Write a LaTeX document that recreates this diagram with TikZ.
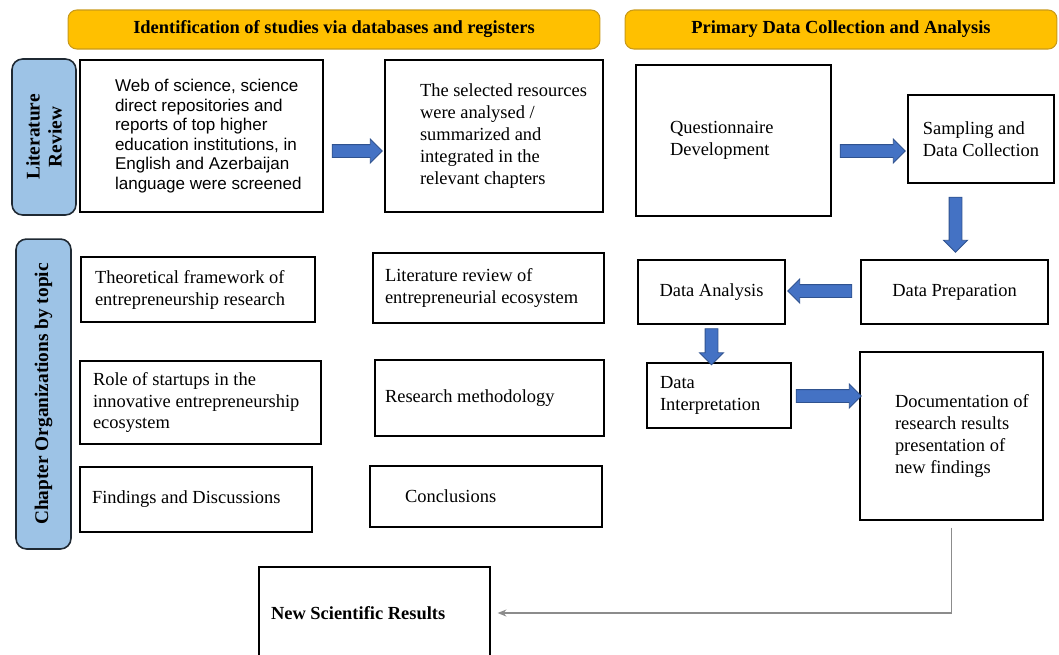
\documentclass[tikz,border=0pt]{standalone}
\usepackage{fontspec}
\setmainfont{Liberation Serif}
\newfontfamily\arialfont{Liberation Sans}
\usepackage{tikz}
\usepackage{xcolor}
\usetikzlibrary{shapes.arrows,arrows.meta}
\definecolor{myyellow}{HTML}{FFC000}
\definecolor{myyellowline}{HTML}{C99A1A}
\definecolor{mysky}{HTML}{9DC3E6}
\definecolor{myskyline}{HTML}{1F2933}
\definecolor{myarrow}{HTML}{4472C4}
\definecolor{myarrowline}{HTML}{2F528F}
\definecolor{mygrey}{HTML}{8C8C8C}

\begin{document}
\begin{tikzpicture}[x=0.02cm, y=-0.02cm,
    box/.style={draw=black, line width=0.75pt, fill=white, font=\fontsize{10.5}{12.5}\selectfont},
    inset/.style={align=left, execute at begin node={\leftskip=#1\spaceskip=0pt\xspaceskip=0pt}},
    header/.style={draw=myyellowline, line width=0.6pt, fill=myyellow, rounded corners=5pt, font=\fontsize{10.5}{12.5}\selectfont\bfseries},
    side/.style={draw=myskyline, line width=0.9pt, fill=mysky, rounded corners=6pt, rotate=90, align=center, font=\fontsize{11}{12.5}\selectfont\bfseries},
    bluearrow/.style={single arrow, draw=myarrowline, fill=myarrow, line width=0.5pt, inner xsep=0pt, inner ysep=0.12cm, single arrow head extend=0.11cm},
    bluedown/.style={bluearrow, shape border rotate=270, inner xsep=0.12cm, inner ysep=0pt},
    feedback/.style={draw=mygrey, line width=0.6pt, -{Stealth[length=5pt, width=4pt]}}]
    \useasboundingbox (0, 0) rectangle (1059, 654);
    \clip (0, 0) rectangle (1059, 654);
    \node[header, minimum width=10.64cm, minimum height=0.78cm] (1) at (334, 29.5) {Identification of studies via databases and registers};
    \node[header, minimum width=8.64cm, minimum height=0.78cm] (2) at (841, 29.5) {Primary Data Collection and Analysis};
    \node[side, minimum width=3.12cm, minimum height=1.28cm] (3) at (44, 137) {Literature\\Review};
    \node[side, minimum width=6.2cm, minimum height=1.1cm] (4) at (43.5, 394) {Chapter Organizations by topic};
    \node[box, minimum width=4.86cm, minimum height=3.04cm, text width=4.46cm, inset=0.5cm, font=\fontsize{9.7}{11.1}\selectfont\arialfont] (5) at (201.5, 136) {Web of science, science\\direct repositories and\\reports of top higher\\education institutions, in\\English and Azerbaijan\\language were screened};
    \node[box, minimum width=4.36cm, minimum height=3.04cm, text width=4.0cm, inset=0.52cm] (6) at (494, 136) {The selected resources\\were analysed /\\summarized and\\integrated in the\\relevant chapters};
    \node[box, minimum width=4.68cm, minimum height=1.30cm, text width=4.12cm, inset=0pt] (7) at (198, 289.5) {Theoretical framework of\\entrepreneurship research};
    \node[box, minimum width=4.62cm, minimum height=1.40cm, text width=4.14cm, inset=0pt] (8) at (488.5, 288) {Literature review of\\entrepreneurial ecosystem};
    \node[box, minimum width=4.82cm, minimum height=1.66cm, text width=4.5cm, inset=0.1cm] (9) at (200.5, 402.5) {Role of startups in the\\innovative entrepreneurship\\ecosystem};
    \node[box, minimum width=4.58cm, minimum height=1.52cm, text width=4.18cm, inset=0pt] (10) at (489.5, 398) {Research methodology};
    \node[box, minimum width=4.64cm, minimum height=1.30cm, text width=4.16cm, inset=0pt] (11) at (196, 499.5) {Findings and Discussions};
    \node[box, minimum width=4.64cm, minimum height=1.22cm, text width=3.24cm, inset=0pt] (12) at (486, 496.5) {Conclusions};
    \node[box, minimum width=4.62cm, minimum height=1.84cm, text width=4.14cm, inset=0pt, font=\fontsize{10.5}{12.5}\selectfont\bfseries] (13) at (374.5, 613) {New Scientific Results};
    \node[box, minimum width=3.90cm, minimum height=3.02cm, text width=2.54cm, inset=0pt] (14) at (733.5, 140.5) {Questionnaire\\Development};
    \node[box, minimum width=2.92cm, minimum height=1.76cm, align=left] (15) at (981, 139) {Sampling and\\Data Collection};
    \node[box, minimum width=3.74cm, minimum height=1.28cm] (16) at (954.5, 292) {Data Preparation};
    \node[box, minimum width=2.94cm, minimum height=1.28cm] (17) at (711.5, 292) {Data Analysis};
    \node[box, minimum width=2.88cm, minimum height=1.30cm, text width=2.36cm, inset=0pt] (18) at (719, 395.5) {Data\\Interpretation};
    \node[box, minimum width=3.66cm, minimum height=3.36cm, text width=3.4cm, inset=0.57cm] (19) at (951.5, 436) {Documentation of\\research results\\presentation of\\new findings};
    \path (5.east |- 0, 151) -- node[bluearrow, minimum height=1.0cm] (20) {} (6.west |- 0, 151);
    \path (14.east |- 0, 151) -- node[bluearrow, minimum height=1.3cm] (21) {} (15.west |- 0, 151);
    \path (15.south -| 955.5, 0) -- node[bluedown, minimum height=1.1cm] (22) {} (16.north -| 955.5, 0);
    \path (16.west |- 0, 291) -- node[bluearrow, shape border rotate=180, minimum height=1.28cm] (23) {} (17.east |- 0, 291);
    \path (17.south) -- node[bluedown, minimum height=0.72cm] (24) {} (18.north -| 17.south);
    \path (18.east |- 0, 396) -- node[bluearrow, minimum height=1.3cm] (25) {} (19.west |- 0, 396);
    \draw[feedback, shorten <=4pt, shorten >=4pt] (19.south) |- (13.east);
\end{tikzpicture}
\end{document}
